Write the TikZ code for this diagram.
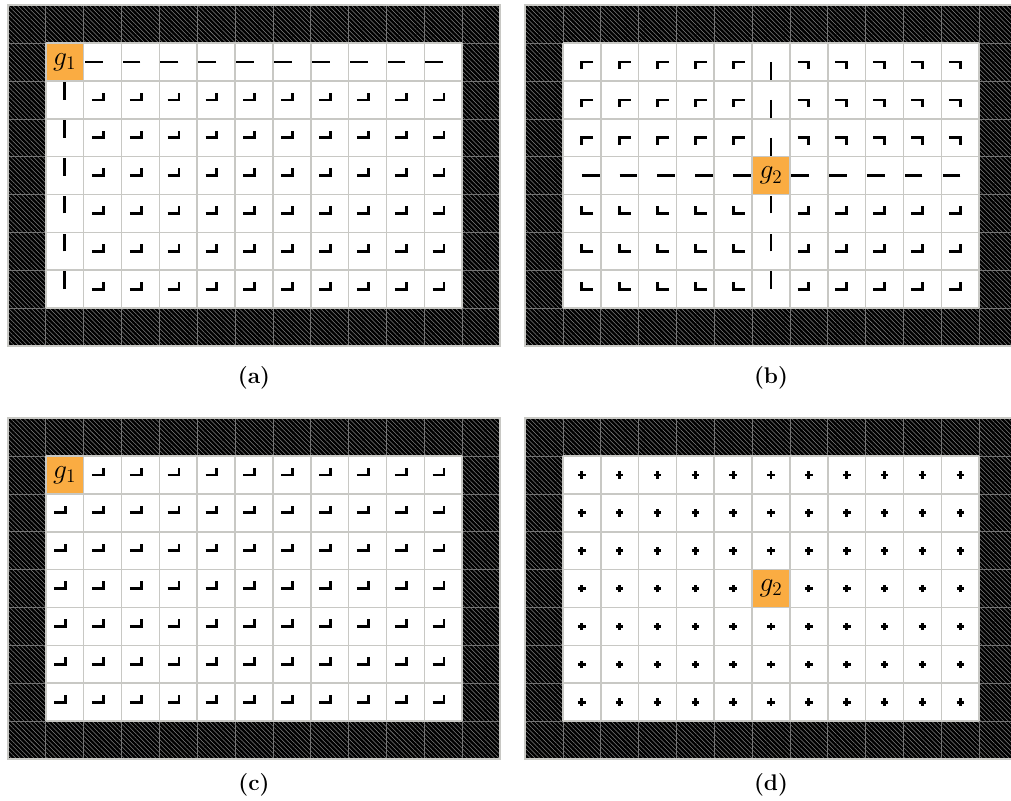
\documentclass[tikz,border=0pt]{standalone}
\usepackage{amsmath, amssymb}
\usepackage{tikz}
\usetikzlibrary{patterns.meta, positioning, calc}
\definecolor{goalorange}{HTML}{FAAC42}
\definecolor{gridgray}{HTML}{C8C8C4}

\begin{document}
\begin{tikzpicture}[
      x=1cm, y=1cm,
      wall/.style={fill=black},
      hatch/.style={pattern={Lines[angle=-45, distance=2.4pt, line width=0.4pt]},
                    pattern color=black!50},
      wallgrid/.style={black!55, line width=0.5pt},
      gridline/.style={gridgray, line width=1.2pt},
      goal/.style={fill=goalorange, minimum size=1cm, inner sep=0pt,
                   font=\fontsize{20}{20}\selectfont},
      vec/.style={line width=2.1pt, black},
      lbl/.style={font=\fontsize{17}{17}\selectfont\bfseries},
    ]
    \useasboundingbox (0,0) rectangle (26.71,21.16);
    % --- panel (a): goal in the top-left corner ------------------------
    \begin{scope}[shift={(0.21,12.02)}]
      \fill[wall] (0,0) rectangle (13,9);
      \fill[hatch] (0,0) rectangle (13,9);
      \draw[wallgrid] (0,0) grid (13,9);
      \fill[white] (1,1) rectangle (12,8);
      \node[goal] (goala) at (1.5,7.5) {$g_1$};
      \draw[gridline] (1,1) grid (12,8);
      \draw[gridline] (0,0) rectangle (13,9);
      \foreach \i in {2,...,11} {
        \draw[vec] (\i+0.5,7.5) -- ++(-0.47,0);
      }
      \foreach \j in {1,...,6} {
        \draw[vec] (1.5,\j+0.5) -- ++(0,0.47);
      }
      \foreach \i in {2,...,11} {
        \foreach \j in {1,...,6} {
          \draw[vec] (\i+0.22,\j+0.5) -- (\i+0.52,\j+0.5) -- ++(0,0.19);
        }
      }
      \node[lbl] (lbla) at (6.5,-0.85) {(a)};
    \end{scope}
    % --- panel (b): goal in the middle ---------------------------------
    \begin{scope}[shift={(13.87,12.02)}]
      \fill[wall] (0,0) rectangle (13,9);
      \fill[hatch] (0,0) rectangle (13,9);
      \draw[wallgrid] (0,0) grid (13,9);
      \fill[white] (1,1) rectangle (12,8);
      \node[goal] (goalb) at (6.5,4.5) {$g_2$};
      \draw[gridline] (1,1) grid (12,8);
      \draw[gridline] (0,0) rectangle (13,9);
      \foreach \i in {1,...,5} {
        \draw[vec] (\i+0.5,4.5) -- ++(0.47,0);
      }
      \foreach \i in {7,...,11} {
        \draw[vec] (\i+0.5,4.5) -- ++(-0.47,0);
      }
      \foreach \j in {1,...,3} {
        \draw[vec] (6.5,\j+0.5) -- ++(0,0.47);
      }
      \foreach \j in {5,...,7} {
        \draw[vec] (6.5,\j+0.5) -- ++(0,-0.47);
      }
      % corner marks, one quadrant at a time
      \foreach \i in {1,...,5} {
        \foreach \j in {5,...,7} {
          \draw[vec] (\i+0.8,\j+0.5) -- (\i+0.5,\j+0.5) -- ++(0,-0.19);
        }
        \foreach \j in {1,...,3} {
          \draw[vec] (\i+0.8,\j+0.5) -- (\i+0.5,\j+0.5) -- ++(0,0.19);
        }
      }
      \foreach \i in {7,...,11} {
        \foreach \j in {5,...,7} {
          \draw[vec] (\i+0.2,\j+0.5) -- (\i+0.5,\j+0.5) -- ++(0,-0.19);
        }
        \foreach \j in {1,...,3} {
          \draw[vec] (\i+0.2,\j+0.5) -- (\i+0.5,\j+0.5) -- ++(0,0.19);
        }
      }
      \node[lbl] (lblb) at (6.5,-0.85) {(b)};
    \end{scope}
    % --- panel (c): same mark everywhere -------------------------------
    \begin{scope}[shift={(0.21,1.11)}]
      \fill[wall] (0,0) rectangle (13,9);
      \fill[hatch] (0,0) rectangle (13,9);
      \draw[wallgrid] (0,0) grid (13,9);
      \fill[white] (1,1) rectangle (12,8);
      \node[goal] (goalc) at (1.5,7.5) {$g_1$};
      \draw[gridline] (1,1) grid (12,8);
      \draw[gridline] (0,0) rectangle (13,9);
      \foreach \i in {1,...,11} {
        \foreach \j in {1,...,7} {
          \ifnum\i=1 \ifnum\j=7 \relax\else
            \draw[vec] (\i+0.22,\j+0.5) -- (\i+0.52,\j+0.5) -- ++(0,0.19);
          \fi\else
            \draw[vec] (\i+0.22,\j+0.5) -- (\i+0.52,\j+0.5) -- ++(0,0.19);
          \fi
        }
      }
      \node[lbl] (lblc) at (6.5,-0.69) {(c)};
    \end{scope}
    % --- panel (d): small crosses --------------------------------------
    \begin{scope}[shift={(13.87,1.11)}]
      \fill[wall] (0,0) rectangle (13,9);
      \fill[hatch] (0,0) rectangle (13,9);
      \draw[wallgrid] (0,0) grid (13,9);
      \fill[white] (1,1) rectangle (12,8);
      \node[goal] (goald) at (6.5,4.5) {$g_2$};
      \draw[gridline] (1,1) grid (12,8);
      \draw[gridline] (0,0) rectangle (13,9);
      \foreach \i in {1,...,11} {
        \foreach \j in {1,...,7} {
          \ifnum\i=6 \ifnum\j=4 \relax\else
            \draw[vec] (\i+0.4,\j+0.5) -- ++(0.2,0) (\i+0.5,\j+0.4) -- ++(0,0.2);
          \fi\else
            \draw[vec] (\i+0.4,\j+0.5) -- ++(0.2,0) (\i+0.5,\j+0.4) -- ++(0,0.2);
          \fi
        }
      }
      \node[lbl] (lbld) at (6.5,-0.69) {(d)};
    \end{scope}
  \end{tikzpicture}
\end{document}
